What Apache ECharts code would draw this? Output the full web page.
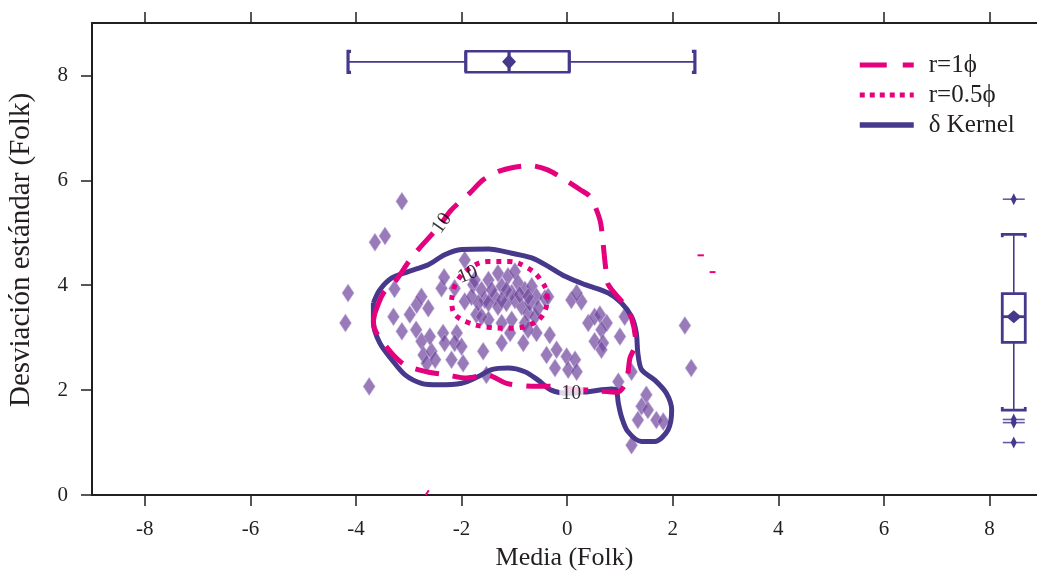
<!DOCTYPE html>
<html>
<head>
<meta charset="utf-8">
<script src="https://cdn.jsdelivr.net/npm/echarts@6.0.0/dist/echarts.min.js"></script>
<style>
  html, body { margin: 0; padding: 0; background: #fff; }
  #chart { width: 1037px; height: 572px; }
</style>
</head>
<body>
<div id="chart"></div>
<script>
// Axis ticks
const xTicks = [-8, -6, -4, -2, 0, 2, 4, 6, 8];
const yTicks = [0, 2, 4, 6, 8];

// Folk songs: mean vs standard deviation
const folkPoints = [
  [-3.13, 5.60], [-3.64, 4.82], [-3.45, 4.94], [-3.75, 2.07], [2.23, 3.23], [2.35, 2.42],
  [-4.15, 3.85], [-4.20, 3.28], [1.22, 0.95],
  [-3.27, 3.93], [-3.29, 3.40], [-3.13, 3.12], [-2.98, 3.44], [-2.85, 3.63], [-2.76, 3.78],
  [-2.63, 3.56], [-2.86, 3.15], [-2.76, 2.93], [-2.72, 2.67], [-2.66, 2.51], [-2.57, 2.74],
  [-2.60, 3.02], [-2.50, 2.58], [-2.35, 3.09], [-2.32, 2.90], [-2.19, 2.58], [-2.09, 3.09],
  [-2.13, 2.90], [-2.00, 2.83], [-1.97, 2.51], [-2.38, 3.94], [-2.33, 4.15], [-1.94, 4.48],
  [-2.13, 3.94], [-1.94, 3.69], [-1.59, 2.74], [-1.53, 2.29], [-1.72, 3.44], [-1.56, 3.72],
  [-1.78, 4.01], [-1.62, 3.91], [-1.49, 4.10], [-1.37, 3.78], [-1.24, 3.98], [-1.12, 4.17],
  [-0.99, 4.26], [-0.93, 4.04], [-0.80, 3.91], [-0.67, 3.98], [-0.58, 3.78], [-0.42, 3.75],
  [-1.81, 3.78], [-1.68, 3.66], [-1.49, 3.66], [-1.31, 3.59], [-1.15, 3.66], [-0.99, 3.72],
  [-0.86, 3.59], [-0.74, 3.47], [-0.61, 3.40], [-0.80, 3.28], [-1.05, 3.34], [-1.24, 3.28],
  [-1.49, 3.34], [-1.62, 3.40], [-1.75, 4.10], [-1.31, 4.23], [-1.05, 3.85], [-0.90, 3.82],
  [-0.71, 3.66], [-0.55, 3.56], [-1.43, 3.91], [-1.15, 3.91], [-1.24, 3.72], [-0.74, 3.78],
  [-1.24, 2.90], [-1.08, 3.09], [-0.83, 2.90], [-0.58, 3.09], [-0.33, 3.05], [-0.39, 2.67],
  [-0.20, 2.77], [-0.23, 2.42], [-0.01, 2.64], [0.15, 2.58], [0.02, 2.39], [0.18, 2.35],
  [-0.74, 3.15], [-0.36, 3.78],
  [0.08, 3.72], [0.27, 3.69], [0.18, 3.85], [0.40, 3.28], [0.52, 3.40], [0.62, 3.44],
  [0.75, 3.28], [0.65, 3.15], [0.52, 2.93], [0.68, 2.90], [0.65, 2.77], [1.00, 3.02],
  [1.09, 3.40], [0.97, 2.16], [1.22, 2.35],
  [1.50, 1.91], [1.41, 1.69], [1.53, 1.62], [1.34, 1.43], [1.69, 1.43], [1.82, 1.40]
];

// Contour r = 1 phi
const contourR1 = [
  [-3.64, 3.47], [-3.48, 3.85], [-3.26, 4.07], [-3.00, 4.45], [-2.82, 4.68], [-2.57, 4.96],
  [-2.37, 5.20], [-2.19, 5.44], [-1.84, 5.76], [-1.59, 6.01], [-1.30, 6.17], [-1.00, 6.25],
  [-0.70, 6.28], [-0.37, 6.20], [-0.04, 6.01], [0.25, 5.82], [0.43, 5.69], [0.62, 5.25],
  [0.68, 4.80], [0.73, 4.33], [0.78, 4.01], [1.06, 3.66], [1.22, 3.37], [1.30, 2.89],
  [1.19, 2.61], [1.12, 2.16], [0.95, 1.96], [0.60, 1.98], [0.40, 2.00], [0.10, 2.02],
  [-0.27, 2.07], [-0.77, 2.08], [-1.15, 2.13], [-1.53, 2.29], [-1.90, 2.23], [-2.28, 2.29],
  [-2.66, 2.35], [-3.07, 2.48], [-3.32, 2.70], [-3.61, 3.09], [-3.67, 3.30], [-3.64, 3.47]
];

// Contour r = 0.5 phi
const contourR05 = [
  [-2.19, 3.72], [-2.10, 4.05], [-1.85, 4.32], [-1.50, 4.45], [-1.10, 4.45], [-0.75, 4.33],
  [-0.50, 4.10], [-0.38, 3.80], [-0.45, 3.45], [-0.70, 3.25], [-1.10, 3.18], [-1.50, 3.20],
  [-1.90, 3.30], [-2.15, 3.48], [-2.19, 3.72]
];

// Kernel density contour
const contourKernel = [
  [-3.67, 3.66], [-3.55, 3.91], [-3.32, 4.14], [-3.01, 4.26], [-2.63, 4.39], [-2.32, 4.58],
  [-2.00, 4.68], [-1.49, 4.69], [-1.05, 4.61], [-0.67, 4.52], [-0.36, 4.36], [-0.04, 4.17],
  [0.34, 4.01], [0.78, 3.85], [1.03, 3.66], [1.22, 3.40], [1.31, 3.09], [1.34, 2.70],
  [1.41, 2.39], [1.66, 2.19], [1.88, 1.94], [1.98, 1.62], [1.91, 1.24], [1.66, 1.02],
  [1.41, 1.02], [1.15, 1.21], [1.03, 1.49], [0.97, 1.75], [0.93, 2.00], [0.84, 2.02],
  [0.40, 1.97], [0.02, 1.94], [-0.30, 2.00], [-0.55, 2.19], [-0.80, 2.35], [-1.12, 2.42],
  [-1.43, 2.39], [-1.68, 2.26], [-2.00, 2.13], [-2.44, 2.10], [-2.76, 2.13], [-3.07, 2.29],
  [-3.32, 2.58], [-3.55, 2.90], [-3.67, 3.28], [-3.67, 3.66]
];

// Small stray pieces of the r = 1 phi contour
const contourBits = [
  [[2.47, 4.57], [2.59, 4.57]],
  [[2.70, 4.25], [2.81, 4.25]],
  [[-2.68, 0.00], [-2.62, 0.09]]
];

// Contour level labels
const levelLabels = [[-2.37, 5.18], [-1.88, 4.20], [0.08, 1.93]];
const levelText = '10';
const levelRotate = [55, 22, 0];
const levelBackground = [null, null, '#fff'];

// Box plot of the means (drawn horizontally at the top)
const meanBox = [-4.15, -1.92, -1.10, 0.04, 2.42];
const meanAvg = -1.10;
const meanBoxAt = 8.26;

// Box plot of the standard deviations (drawn vertically at the right)
const sdBox = [1.62, 2.91, 3.40, 3.84, 4.97];
const sdAvg = 3.40;
const sdOutliers = [5.64, 1.44, 1.38, 1.00];
const sdBoxAt = 8.46;

const PINK = '#e5007d';
const INDIGO = '#47388c';
const INK = '#231f20';
const SERIF = '"Liberation Serif", "Times New Roman", serif';

function diamond(cx, cy, w, h, color) {
  return {
    type: 'polygon',
    shape: { points: [[cx, cy - h / 2], [cx + w / 2, cy], [cx, cy + h / 2], [cx - w / 2, cy]] },
    style: { fill: color }
  };
}

function renderHorizontalBox(params, api) {
  const y = api.value(6);
  const p = [0, 1, 2, 3, 4].map(i => api.coord([api.value(i), y]));
  const m = api.coord([api.value(5), y]);
  const cy = p[0][1];
  const h = 10.5;
  const line = { stroke: INDIGO, lineWidth: 1.8, fill: null };
  const thick = { stroke: INDIGO, lineWidth: 3.2, fill: null };
  return {
    type: 'group',
    children: [
      { type: 'line', shape: { x1: p[0][0], y1: cy, x2: p[1][0], y2: cy }, style: line },
      { type: 'line', shape: { x1: p[3][0], y1: cy, x2: p[4][0], y2: cy }, style: line },
      { type: 'rect', shape: { x: p[1][0], y: cy - h, width: p[3][0] - p[1][0], height: 2 * h },
        style: { stroke: INDIGO, lineWidth: 2.4, fill: '#fff' } },
      { type: 'line', shape: { x1: p[1][0], y1: cy - h, x2: p[1][0], y2: cy + h }, style: thick },
      { type: 'line', shape: { x1: p[3][0], y1: cy - h, x2: p[3][0], y2: cy + h }, style: thick },
      { type: 'line', shape: { x1: p[2][0], y1: cy - h, x2: p[2][0], y2: cy + h }, style: thick },
      { type: 'polyline', shape: { points: [[p[0][0] + 3, cy - h], [p[0][0], cy - h], [p[0][0], cy + h], [p[0][0] + 3, cy + h]] }, style: thick },
      { type: 'polyline', shape: { points: [[p[4][0] - 3, cy - h], [p[4][0], cy - h], [p[4][0], cy + h], [p[4][0] - 3, cy + h]] }, style: thick },
      diamond(m[0], m[1], 14, 15, INDIGO)
    ]
  };
}

function renderVerticalBox(params, api) {
  const x = api.value(6);
  const p = [0, 1, 2, 3, 4].map(i => api.coord([x, api.value(i)]));
  const m = api.coord([x, api.value(5)]);
  const cx = p[0][0];
  const w = 11.5;
  const line = { stroke: INDIGO, lineWidth: 1.6, fill: null };
  const thick = { stroke: INDIGO, lineWidth: 2.8, fill: null };
  return {
    type: 'group',
    children: [
      { type: 'line', shape: { x1: cx, y1: p[0][1], x2: cx, y2: p[1][1] }, style: line },
      { type: 'line', shape: { x1: cx, y1: p[3][1], x2: cx, y2: p[4][1] }, style: line },
      { type: 'rect', shape: { x: cx - w, y: p[3][1], width: 2 * w, height: p[1][1] - p[3][1] },
        style: { stroke: INDIGO, lineWidth: 2.8, fill: '#fff' } },
      { type: 'line', shape: { x1: cx - w, y1: p[2][1], x2: cx + w, y2: p[2][1] }, style: thick },
      { type: 'polyline', shape: { points: [[cx - w, p[4][1] + 3], [cx - w, p[4][1]], [cx + w, p[4][1]], [cx + w, p[4][1] + 3]] }, style: thick },
      { type: 'polyline', shape: { points: [[cx - w, p[0][1] - 3], [cx - w, p[0][1]], [cx + w, p[0][1]], [cx + w, p[0][1] - 3]] }, style: thick },
      diamond(m[0], m[1], 15, 13, INDIGO)
    ]
  };
}

function renderOutlier(params, api) {
  const c = api.coord([api.value(0), api.value(1)]);
  return {
    type: 'group',
    children: [
      { type: 'line', shape: { x1: c[0] - 11, y1: c[1], x2: c[0] + 11, y2: c[1] },
        style: { stroke: '#6a5aa6', lineWidth: 1.6 } },
      diamond(c[0], c[1], 6, 12, INDIGO)
    ]
  };
}

const chart = echarts.init(document.getElementById('chart'), null, { renderer: 'canvas' });

const axisLine = { onZero: false, lineStyle: { color: INK, width: 2 } };
const axisTickStyle = { color: INK, width: 1.5 };
const noMarker = { color: 'rgba(0,0,0,0)', borderColor: 'rgba(0,0,0,0)', borderWidth: 0, opacity: 0 };

chart.setOption({
  animation: false,
  backgroundColor: '#fff',
  grid: { left: 92, top: 23, right: 0, height: 472, containLabel: false, outerBoundsMode: 'none' },
  legend: {
    orient: 'vertical',
    left: 857,
    top: 52,
    padding: 0,
    itemWidth: 54,
    itemHeight: 14,
    itemGap: 4,
    textStyle: { fontFamily: SERIF, fontSize: 25, color: INK, lineHeight: 26, padding: [0, 0, 0, 10] },
    data: [
      { name: 'r=1\u03d5', lineStyle: { type: [27, 16], width: 5 }, itemStyle: noMarker },
      { name: 'r=0.5\u03d5', lineStyle: { type: [5, 5], width: 5 }, itemStyle: noMarker },
      { name: '\u03b4 Kernel', lineStyle: { width: 5.5 }, itemStyle: noMarker }
    ]
  },
  xAxis: [
    {
      type: 'value', min: -9, max: 8.9, position: 'bottom',
      axisLine: axisLine,
      axisTick: { customValues: xTicks, length: 11, lineStyle: axisTickStyle },
      axisLabel: { customValues: xTicks, fontFamily: SERIF, fontSize: 21, color: INK, margin: 24 },
      splitLine: { show: false },
      name: 'Media (Folk)', nameLocation: 'middle', nameGap: 41,
      nameTextStyle: { fontFamily: SERIF, fontSize: 26, color: INK }
    },
    {
      type: 'value', min: -9, max: 8.9, position: 'top',
      axisLine: axisLine,
      axisTick: { customValues: xTicks, length: 11, lineStyle: axisTickStyle },
      axisLabel: { show: false },
      splitLine: { show: false }
    }
  ],
  yAxis: {
    type: 'value', min: 0, max: 9, position: 'left',
    axisLine: axisLine,
    axisTick: { customValues: yTicks, length: 11, lineStyle: axisTickStyle },
    axisLabel: { customValues: yTicks, fontFamily: SERIF, fontSize: 21, color: INK, margin: 24 },
    splitLine: { show: false },
    name: 'Desviaci\u00f3n est\u00e1ndar (Folk)', nameLocation: 'middle', nameGap: 56,
    nameTextStyle: { fontFamily: SERIF, fontSize: 29, color: INK, padding: [0, 0, 0, 18] }
  },
  series: [
    {
      name: 'folk',
      type: 'scatter',
      data: folkPoints,
      symbol: 'diamond',
      symbolSize: [12, 18],
      itemStyle: { color: 'rgba(112,72,156,0.9)', borderColor: 'rgba(196,178,220,0.85)', borderWidth: 0.8 },
      z: 2,
      silent: true
    },
    {
      name: 'r=1\u03d5',
      type: 'line',
      data: contourR1,
      symbol: 'none',
      smooth: 0.3,
      lineStyle: { color: PINK, width: 5, type: [24, 14], cap: 'butt' },
      itemStyle: { color: PINK },
      z: 4
    },
    {
      name: 'r=0.5\u03d5',
      type: 'line',
      data: contourR05,
      symbol: 'none',
      smooth: 0.4,
      lineStyle: { color: PINK, width: 5, type: [5, 6], cap: 'butt' },
      itemStyle: { color: PINK },
      z: 4
    },
    {
      name: '\u03b4 Kernel',
      type: 'line',
      data: contourKernel,
      symbol: 'none',
      smooth: 0.3,
      lineStyle: { color: INDIGO, width: 5 },
      itemStyle: { color: INDIGO },
      z: 3
    },
    ...contourBits.map(seg => ({
      type: 'line', data: seg, symbol: 'none',
      lineStyle: { color: PINK, width: 2 }, z: 4, silent: true
    })),
    {
      type: 'scatter',
      data: levelLabels.map((v, i) => ({
        value: v,
        label: levelBackground[i]
          ? { rotate: levelRotate[i], backgroundColor: levelBackground[i], padding: [0, 2] }
          : { rotate: levelRotate[i] }
      })),
      symbolSize: 0,
      label: {
        show: true, position: 'inside', formatter: levelText,
        fontFamily: SERIF, fontSize: 20, color: '#000'
      },
      z: 6,
      silent: true
    },
    {
      type: 'custom',
      renderItem: renderHorizontalBox,
      data: [[...meanBox, meanAvg, meanBoxAt]],
      encode: { x: [0, 1, 2, 3, 4], y: 6 },
      z: 5, silent: true
    },
    {
      type: 'custom',
      renderItem: renderVerticalBox,
      data: [[...sdBox, sdAvg, sdBoxAt]],
      encode: { x: 6, y: [0, 1, 2, 3, 4] },
      z: 5, silent: true
    },
    {
      type: 'custom',
      renderItem: renderOutlier,
      data: sdOutliers.map(v => [sdBoxAt, v]),
      encode: { x: 0, y: 1 },
      z: 5, silent: true
    }
  ]
});
</script>
</body>
</html>
